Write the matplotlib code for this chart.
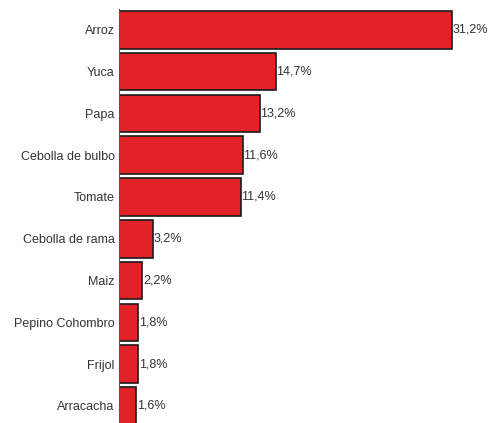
import matplotlib
matplotlib.use("Agg")
from matplotlib import pyplot as plt

cultivos = ["Arroz", "Yuca", "Papa", "Cebolla de bulbo", "Tomate",
            "Cebolla de rama", "Maiz", "Pepino Cohombro", "Frijol", "Arracacha"]
porcentajes = [31.2, 14.7, 13.2, 11.6, 11.4, 3.2, 2.2, 1.8, 1.8, 1.6]
etiquetas = ["31,2%", "14,7%", "13,2%", "11,6%", "11,4%",
             "3,2%", "2,2%", "1,8%", "1,8%", "1,6%"]

plt.rcParams['font.family'] = ['Liberation Sans Narrow', 'Liberation Sans', 'DejaVu Sans']

fig = plt.figure(figsize=(4.9, 4.23), dpi=100)
ax = fig.add_axes([119 / 490, 0, 1 - 119 / 490, 1 - 9 / 423])

ypos = list(range(len(cultivos)))
ax.barh(ypos, porcentajes, height=0.9, color='#e32227',
        edgecolor='#1a1a1a', linewidth=1.2)

for y, v, t in zip(ypos, porcentajes, etiquetas):
    ax.text(v + 0.05, y, t, va='center', ha='left', fontsize=9, color='#333333')

ax.set_yticks(ypos)
ax.set_yticklabels(cultivos, fontsize=9, color='#333333')
ax.tick_params(axis='y', length=0, pad=3)
ax.set_xticks([])
ax.set_xlim(0, 34.8)
ax.set_ylim(9.41, -0.5)
for s in ['top', 'right', 'bottom']:
    ax.spines[s].set_visible(False)
ax.spines['left'].set_color('#555555')
ax.spines['left'].set_linewidth(0.8)

fig.savefig('out.png', dpi=100)
